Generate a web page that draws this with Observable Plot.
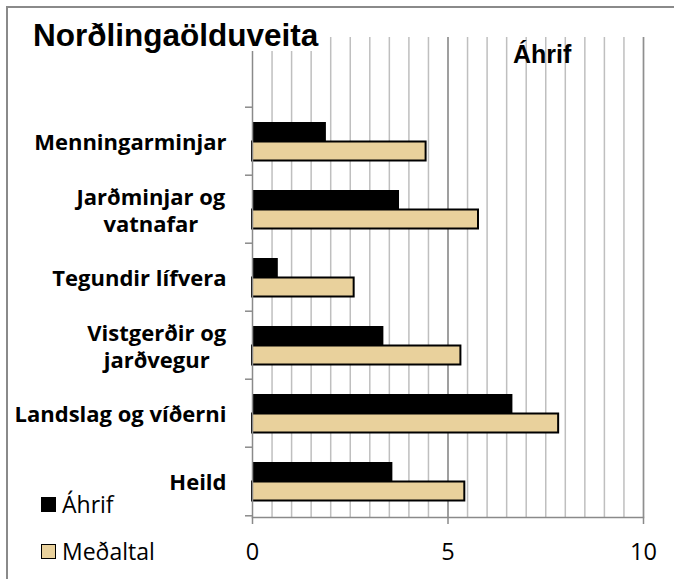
<!DOCTYPE html>
<html><head><meta charset="utf-8">
<script src="https://cdn.jsdelivr.net/npm/d3@7"></script>
<script src="https://cdn.jsdelivr.net/npm/@observablehq/plot@0.6"></script>
<style>
body{margin:0;background:#fff;}
#wrap{position:relative;width:674px;height:579px;overflow:hidden;background:#fff;}
#border{position:absolute;left:6px;top:6px;width:700px;height:700px;border:2px solid #8a8a8a;box-sizing:border-box;pointer-events:none;}
#title{position:absolute;left:33px;top:20px;font:bold 31.5px "Liberation Sans",Arial,sans-serif;line-height:31px;background:#fff;padding-right:2px;white-space:nowrap;}
#sub{position:absolute;left:513px;top:41px;font:bold 25px "Liberation Sans",Arial,sans-serif;line-height:27px;white-space:nowrap;}
.leg{position:absolute;left:41px;font:23px "Open Sans",sans-serif;line-height:24px;display:flex;align-items:center;white-space:nowrap;}
.sw{width:15px;height:15px;box-sizing:border-box;margin-right:6px;}
svg{position:absolute;left:0;top:0;}
</style></head>
<body>
<div id="wrap"></div>
<script>
const categories = ["Menningarminjar", "Jarðminjar og\nvatnafar", "Tegundir lífvera", "Vistgerðir og\njarðvegur", "Landslag og víðerni", "Heild"];
const ahrif    = [1.89, 3.76, 0.66, 3.36, 6.66, 3.59];
const medaltal = [4.44, 5.78, 2.60, 5.33, 7.83, 5.43];
const seriesNames = ["Áhrif", "Meðaltal"];
const xTicks = [0, 5, 10];
const gridTicks = d3.range(0.5, 10.01, 0.5);
const chartTitle = "Norðlingaölduveita";

const rows = categories.map((c, i) => ({cat: c, ahrif: ahrif[i], medaltal: medaltal[i]}));
const yDomain = [" ", ...categories];
const TAN = "#e9d19c";

const chart = Plot.plot({
  width: 674, height: 579,
  marginLeft: 252, marginRight: 31, marginTop: 37, marginBottom: 62,
  style: {background: "transparent", overflow: "visible"},
  x: {domain: [0, 10]},
  y: {domain: yDomain, padding: 0},
  marks: [
    Plot.ruleX(gridTicks, {stroke: "#bfbfbf", strokeWidth: 1.5}),
    Plot.ruleX([5, 10], {stroke: "#8f8f8f", strokeWidth: 1.5}),
    Plot.barX(rows, {x: "medaltal", y: "cat", fill: TAN, stroke: "black", strokeWidth: 2, insetTop: 34.5, insetBottom: 14.5}),
    Plot.barX(rows, {x: "ahrif", y: "cat", fill: "black", insetTop: 15, insetBottom: 34}),
    Plot.ruleX([0], {stroke: "#8a8a8a", strokeWidth: 1.5}),
    Plot.frame({anchor: "bottom", stroke: "#8a8a8a", strokeWidth: 1.5}),
    Plot.axisY({ticks: categories, tickSize: 7, tickFormat: () => "", dy: -34.29, stroke: "#8a8a8a", strokeWidth: 1.5, label: null}),
    Plot.axisY({ticks: ["Heild"], tickSize: 7, tickFormat: () => "", dy: 34.29, stroke: "#8a8a8a", strokeWidth: 1.5, label: null}),
    Plot.axisY({ticks: categories, tickSize: 0, tickPadding: 26, fontSize: 22, fontWeight: "bold", fontFamily: "Open Sans", fill: "black", lineHeight: 1.25, label: null}),
    Plot.axisX({ticks: xTicks, tickSize: 7, tickPadding: 19, fontSize: 23.5, fontFamily: "Open Sans", stroke: "#8a8a8a", strokeWidth: 1.5, fill: "black", label: null})
  ]
});

const wrap = document.getElementById("wrap");
wrap.appendChild(chart);

// center lines of multi-line category labels within their block (Excel style)
chart.querySelectorAll("text").forEach(t => {
  const spans = t.querySelectorAll("tspan");
  if (spans.length > 1) {
    const w = t.getBBox().width;
    t.setAttribute("text-anchor", "middle");
    spans.forEach(s => s.setAttribute("x", -w / 2));
  }
});

const border = document.createElement("div"); border.id = "border"; wrap.appendChild(border);
const title = document.createElement("div"); title.id = "title"; title.textContent = chartTitle; wrap.appendChild(title);
const sub = document.createElement("div"); sub.id = "sub"; sub.textContent = seriesNames[0]; wrap.appendChild(sub);
[[seriesNames[0], "black", "none", 492], [seriesNames[1], TAN, "1.5px solid black", 539]].forEach(([name, fill, bd, top]) => {
  const d = document.createElement("div"); d.className = "leg"; d.style.top = top + "px";
  const sw = document.createElement("div"); sw.className = "sw"; sw.style.background = fill; sw.style.border = bd;
  d.appendChild(sw); d.appendChild(document.createTextNode(name));
  wrap.appendChild(d);
});
</script>
</body></html>
